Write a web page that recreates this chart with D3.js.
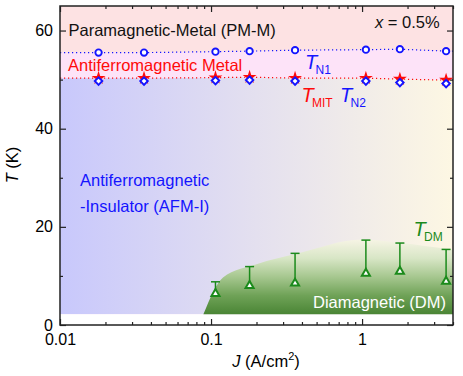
<!DOCTYPE html>
<html>
<head>
<meta charset="utf-8">
<script src="https://cdn.jsdelivr.net/npm/d3@7"></script>
<style>
  body { margin: 0; background: #fff; }
  text { font-family: "Liberation Sans", Arial, sans-serif; }
</style>
</head>
<body>
<div id="chart"></div>
<script>
// measured current densities (A/cm^2)
const jVals = [0.018, 0.036, 0.107, 0.18, 0.36, 1.06, 1.78, 3.6];
const tN1  = [55.5, 55.5, 55.7, 55.8, 56.0, 56.1, 56.2, 55.8];
const tMIT = [50.3, 50.3, 50.4, 50.5, 50.3, 50.3, 50.1, 49.9];
const tN2  = [49.7, 49.7, 49.8, 49.9, 49.7, 49.7, 49.4, 49.2];

// diamagnetic transition (one sided error bars)
const jDM      = [0.107, 0.18, 0.36, 1.06, 1.78, 3.6];
const tDM      = [6.4, 8.0, 8.5, 10.5, 10.9, 8.9];
const tDMupper = [8.8, 11.9, 14.6, 17.3, 16.7, 15.4];

// shaded DM region edge
const dmEdgeJ = [0.089, 0.12, 0.2, 0.37, 1.0, 1.7, 4.0];
const dmEdgeT = [2.2, 9.7, 12.4, 14.5, 17.4, 16.8, 15.3];
const floorT = 2.2;

const xDomain = [0.01, 4.0];
const yDomain = [0, 65];
const xMajor = [0.01, 0.1, 1];
const xMinor = [0.02,0.03,0.04,0.05,0.06,0.07,0.08,0.09,0.2,0.3,0.4,0.5,0.6,0.7,0.8,0.9,2,3,4];
const yMajor = [0, 20, 40, 60];
const yMinor = [10, 30, 50];

const W = 463, H = 376;
const margin = {top: 6, right: 10, bottom: 51, left: 60};
const width = W - margin.left - margin.right;
const height = H - margin.top - margin.bottom;

const blue = "#1414ff", red = "#ff0a0a", green = "#1b8a1b";

const svg = d3.select("#chart").append("svg")
  .attr("width", W).attr("height", H);

const x = d3.scaleLog().domain(xDomain).range([0, width]);
const y = d3.scaleLinear().domain(yDomain).range([height, 0]);

const defs = svg.append("defs");
const g1 = defs.append("linearGradient").attr("id", "afmGrad")
  .attr("x1", 0).attr("x2", 1).attr("y1", 0).attr("y2", 0);
g1.append("stop").attr("offset", 0).attr("stop-color", "#c8c8fc");
g1.append("stop").attr("offset", 0.5).attr("stop-color", "#e4e0ef");
g1.append("stop").attr("offset", 1).attr("stop-color", "#fdf7e3");

const g2 = defs.append("linearGradient").attr("id", "dmGrad")
  .attr("x1", 0).attr("x2", 0).attr("y1", 0).attr("y2", 1);
g2.append("stop").attr("offset", 0).attr("stop-color", "#f6f4e4");
g2.append("stop").attr("offset", 0.25).attr("stop-color", "#d8e6c6");
g2.append("stop").attr("offset", 0.5).attr("stop-color", "#a6c78f");
g2.append("stop").attr("offset", 0.75).attr("stop-color", "#6fa257");
g2.append("stop").attr("offset", 1).attr("stop-color", "#4a8535");

defs.append("clipPath").attr("id", "clip").append("rect")
  .attr("width", width).attr("height", height);

const plot = svg.append("g")
  .attr("transform", "translate(" + margin.left + "," + margin.top + ")");
const bg = plot.append("g").attr("clip-path", "url(#clip)");

// boundary lines extended to the frame
function extended(vals) {
  let pts = jVals.map((j, i) => [j, vals[i]]);
  return [[xDomain[0], vals[0]]].concat(pts, [[xDomain[1], vals[vals.length - 1]]]);
}
const n1Line = extended(tN1);
const mitLine = extended(tMIT);

// PM-M background
bg.append("rect").attr("width", width).attr("height", height).attr("fill", "#fde2e3");

// AFM metal band
const area = d3.area().x(d => x(d[0])).y0(y(0)).y1(d => y(d[1]));
bg.append("path").datum(n1Line).attr("d", area).attr("fill", "#fde3f8");

// AFM insulator gradient
bg.append("path").datum(mitLine)
  .attr("d", d3.area().x(d => x(d[0])).y0(y(floorT)).y1(d => y(d[1])))
  .attr("fill", "url(#afmGrad)");

// white strip at bottom
bg.append("rect").attr("x", 0).attr("y", y(floorT))
  .attr("width", width).attr("height", y(0) - y(floorT)).attr("fill", "#fff");

// DM region
const dmPts = dmEdgeJ.map((j, i) => [j, dmEdgeT[i]]);
bg.append("path").datum(dmPts)
  .attr("d", d3.area().curve(d3.curveMonotoneX)
    .x(d => x(d[0])).y0(y(floorT)).y1(d => y(d[1])))
  .attr("fill", "url(#dmGrad)");

// dotted boundaries
const line = d3.line().x(d => x(d[0])).y(d => y(d[1]));
bg.append("path").datum(n1Line).attr("d", line)
  .attr("fill", "none").attr("stroke", blue).attr("stroke-width", 1.2)
  .attr("stroke-dasharray", "1.2,2.8");
bg.append("path").datum(mitLine).attr("d", line)
  .attr("fill", "none").attr("stroke", red).attr("stroke-width", 1.2)
  .attr("stroke-dasharray", "1.2,2.8");

// axes
function drawAxis(axisGen, tr, vals, size, pad) {
  let a = plot.append("g").attr("transform", tr)
    .call(axisGen.tickValues(vals).tickSizeInner(-size).tickSizeOuter(0).tickPadding(pad || 0)
      .tickFormat(pad ? d3.format("") : ""));
  a.select(".domain").remove();
  a.selectAll("line").attr("stroke", "#222").attr("stroke-width", 1.2);
  a.selectAll("text").attr("font-size", 16).attr("fill", "#000")
    .style("font-family", "'Liberation Sans', Arial, sans-serif");
  return a;
}
drawAxis(d3.axisBottom(x), "translate(0," + height + ")", xMajor, 6, 9)
  .selectAll("text").text(d => d3.format("")(d));
drawAxis(d3.axisBottom(x), "translate(0," + height + ")", xMinor, 3, 0);
drawAxis(d3.axisTop(x), "translate(0,0)", xMajor, 6, 0);
drawAxis(d3.axisTop(x), "translate(0,0)", xMinor, 3, 0);
drawAxis(d3.axisLeft(y), "translate(0,0)", yMajor, 6, 7);
drawAxis(d3.axisLeft(y), "translate(0,0)", yMinor, 3, 0);
drawAxis(d3.axisRight(y), "translate(" + width + ",0)", yMajor, 6, 0);
drawAxis(d3.axisRight(y), "translate(" + width + ",0)", yMinor, 3, 0);

plot.append("rect").attr("width", width).attr("height", height)
  .attr("fill", "none").attr("stroke", "#222").attr("stroke-width", 1.5);

// DM error bars + triangles
jDM.forEach((j, i) => {
  plot.append("line").attr("x1", x(j)).attr("x2", x(j))
    .attr("y1", y(tDM[i])).attr("y2", y(tDMupper[i]))
    .attr("stroke", green).attr("stroke-width", 1.5);
  plot.append("line").attr("x1", x(j) - 4.5).attr("x2", x(j) + 4.5)
    .attr("y1", y(tDMupper[i])).attr("y2", y(tDMupper[i]))
    .attr("stroke", green).attr("stroke-width", 1.5);
});
plot.selectAll(".tri").data(jDM).enter().append("path")
  .attr("d", d3.symbol().type(d3.symbolTriangle).size(28))
  .attr("transform", (d, i) => "translate(" + x(d) + "," + y(tDM[i]) + ")")
  .attr("fill", "#fff").attr("stroke", green).attr("stroke-width", 2);

// T_MIT stars (behind diamonds)
plot.selectAll(".star").data(jVals).enter().append("path")
  .attr("d", d3.symbol().type(d3.symbolStar).size(60))
  .attr("transform", (d, i) => "translate(" + x(d) + "," + y(tMIT[i]) + ")")
  .attr("fill", red);

// T_N2 diamonds
plot.selectAll(".dia").data(jVals).enter().append("path")
  .attr("d", d3.symbol().type(d3.symbolSquare).size(28))
  .attr("transform", (d, i) => "translate(" + x(d) + "," + y(tN2[i]) + ") rotate(45)")
  .attr("fill", "#fff").attr("stroke", blue).attr("stroke-width", 1.9);

// T_N1 circles
plot.selectAll(".cir").data(jVals).enter().append("circle")
  .attr("cx", d => x(d)).attr("cy", (d, i) => y(tN1[i])).attr("r", 3.2)
  .attr("fill", "#fff").attr("stroke", blue).attr("stroke-width", 1.9);

// annotations (page coordinates)
function label(txt, px, py, size, color, italic) {
  return svg.append("text").attr("x", px).attr("y", py)
    .attr("font-size", size).attr("fill", color)
    .attr("font-style", italic ? "italic" : "normal").text(txt);
}
label("Paramagnetic-Metal (PM-M)", 68.5, 36, 16.5, "#111");
label("Antiferromagnetic Metal", 68, 71, 16.5, red);
label("Antiferromagnetic", 80, 185.5, 16.5, blue);
label("-Insulator (AFM-I)", 80, 212, 16.5, blue);
label("Diamagnetic (DM)", 313, 307.5, 16.5, "#fff");

const xl = svg.append("text").attr("x", 375).attr("y", 27.5).attr("font-size", 16.5).attr("fill", "#111");
xl.append("tspan").attr("font-style", "italic").text("x");
xl.append("tspan").text(" = 0.5%");

function tLabel(sub, px, py, color) {
  label("T", px, py, 20, color, true);
  label(sub, px + 10.5, py + 5, 12, color);
}
tLabel("N1", 305, 68.5, blue);
tLabel("MIT", 301.5, 102, red);
tLabel("N2", 340, 102, blue);
tLabel("DM", 413.5, 236, green);

// axis titles
const xt = svg.append("text").attr("x", 266).attr("y", 367)
  .attr("text-anchor", "middle").attr("font-size", 16.5).attr("fill", "#000");
xt.append("tspan").attr("font-style", "italic").text("J");
xt.append("tspan").text(" (A/cm");
xt.append("tspan").attr("font-size", 11).attr("dy", -7).text("2");
xt.append("tspan").attr("dy", 7).text(")");

const yt = svg.append("text").attr("transform", "translate(18,165) rotate(-90)")
  .attr("text-anchor", "middle").attr("font-size", 16.5).attr("fill", "#000");
yt.append("tspan").attr("font-style", "italic").text("T");
yt.append("tspan").text(" (K)");
</script>
</body>
</html>
